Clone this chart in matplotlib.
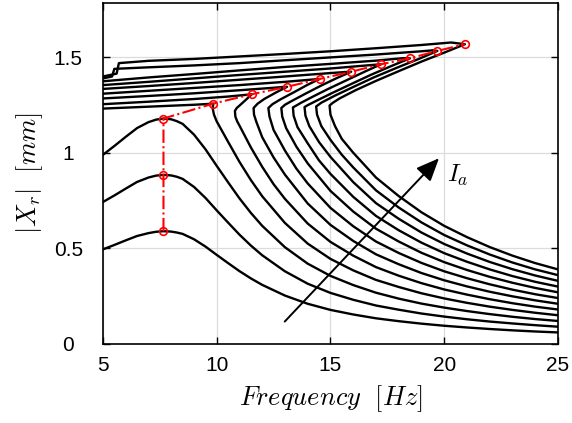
import matplotlib
matplotlib.use('Agg')
import matplotlib.pyplot as plt

plt.rcParams['font.family'] = ['Liberation Sans', 'DejaVu Sans']
plt.rcParams['mathtext.fontset'] = 'cm'

# linear (small current) curves share one frequency grid
lin_freq = [5, 5.5, 6, 6.5, 7, 7.33, 7.66, 8, 8.25, 8.5, 9, 9.5, 10, 10.5,
            11, 11.5, 12, 13, 14, 15, 16, 17, 18, 19, 20, 21, 22, 23, 24, 25]
c1_amp = [.495, .518, .542, .565, .580, .587, .590, .588, .583, .576, .548,
          .510, .466, .423, .381, .343, .309, .253, .210, .178, .154, .134,
          .119, .106, .095, .086, .078, .071, .065, .060]
c2_amp = [.743, .777, .813, .848, .871, .881, .885, .882, .875, .864, .822,
          .765, .699, .635, .572, .515, .464, .380, .315, .267, .231, .201,
          .179, .159, .143, .129, .117, .107, .098, .090]
c3_amp = [.990, 1.036, 1.084, 1.130, 1.161, 1.174, 1.180, 1.176, 1.166,
          1.152, 1.096, 1.020, .932, .846, .762, .686, .618, .506, .420, .356,
          .308, .268, .237, .211, .190, .172, .156, .142, .130, .120]

# nonlinear curves: upper branch -> turning point -> middle branch -> knee -> lower branch
c4_freq = [5, 7, 9, 9.6, 9.85, 9.82, 9.88, 10, 10.5, 11, 11.5, 12, 13, 14,
           15, 16, 17, 18, 19, 20, 21, 22, 23, 24, 25]
c4_amp = [1.232, 1.242, 1.252, 1.256, 1.258, 1.235, 1.2, 1.165, 1.058, .953,
          .858, .773, .633, .525, .445, .385, .335, .298, .265, .238, .215,
          .195, .178, .163, .150]
c5_freq = [5, 7, 9, 10.5, 11.2, 11.54, 11.3, 11.05, 10.88, 10.8, 10.82, 10.9,
           11, 11.5, 12, 12.5, 13, 14, 15, 16, 17, 18, 19, 20, 21, 22, 23,
           24, 25]
c5_amp = [1.255, 1.268, 1.282, 1.295, 1.303, 1.307, 1.28, 1.253, 1.235, 1.22,
          1.19, 1.165, 1.143, 1.029, .927, .836, .759, .630, .534, .462, .402,
          .357, .318, .285, .258, .234, .213, .195, .180]
c6_freq = [5, 7, 9, 11, 12.5, 12.9, 13.09, 12.6, 12.1, 11.8, 11.62, 11.64,
           11.75, 12, 12.5, 13, 14, 15, 16, 17, 18, 19, 20, 21, 22, 23, 24, 25]
c6_amp = [1.285, 1.298, 1.312, 1.328, 1.341, 1.345, 1.346, 1.316, 1.283,
          1.258, 1.235, 1.2, 1.16, 1.082, .976, .886, .735, .623, .539, .469,
          .417, .371, .333, .301, .273, .249, .228, .210]
c7_freq = [5, 7, 9, 11, 13, 14.2, 14.52, 14.0, 13.4, 12.8, 12.45, 12.27,
           12.32, 12.5, 13, 13.5, 14, 15, 16, 17, 18, 19, 20, 21, 22, 23, 24,
           25]
c7_amp = [1.31, 1.325, 1.34, 1.355, 1.372, 1.384, 1.387, 1.357, 1.318, 1.28,
          1.255, 1.235, 1.19, 1.12, 1.012, .918, .840, .712, .616, .536, .476,
          .424, .380, .344, .312, .284, .260, .240]
c8_freq = [5, 7, 9, 11, 13, 15, 15.6, 15.91, 15.3, 14.6, 13.9, 13.3, 13.0,
           12.84, 12.88, 13.05, 13.5, 14, 15, 16, 17, 18, 19, 20, 21, 22, 23,
           24, 25]
c8_amp = [1.335, 1.35, 1.366, 1.383, 1.400, 1.418, 1.423, 1.425, 1.393,
          1.353, 1.31, 1.272, 1.252, 1.235, 1.19, 1.13, 1.033, .945, .801,
          .693, .603, .536, .477, .428, .387, .351, .320, .293, .270]
c9_freq = [5, 7, 9, 11, 13, 15, 16.8, 17.22, 16.5, 15.7, 14.9, 14.2, 13.7,
           13.5, 13.35, 13.38, 13.55, 14, 14.5, 15, 16, 17, 18, 19, 20, 21,
           22, 23, 24, 25]
c9_amp = [1.355, 1.372, 1.39, 1.408, 1.425, 1.442, 1.46, 1.464, 1.425, 1.38,
          1.335, 1.293, 1.262, 1.248, 1.238, 1.195, 1.135, 1.05, .96, .89,
          .77, .67, .595, .53, .475, .43, .39, .355, .325, .30]
c10_freq = [5, 7, 9, 11, 13, 15, 17, 18.2, 18.49, 17.7, 16.8, 15.9, 15.1,
            14.4, 14.0, 13.86, 13.9, 14.07, 14.5, 15, 16, 17, 18, 19, 20, 21,
            22, 23, 24, 25]
c10_amp = [1.375, 1.395, 1.413, 1.432, 1.45, 1.466, 1.483, 1.496, 1.495,
           1.456, 1.41, 1.36, 1.315, 1.274, 1.25, 1.24, 1.195, 1.14, 1.056,
           .979, .847, .737, .655, .583, .523, .473, .429, .391, .358, .33]
c11_freq = [5, 5.4, 5.5, 7, 9, 11, 13, 15, 17, 19, 19.5, 19.7, 18.9, 17.9,
            16.9, 16.0, 15.2, 14.6, 14.37, 14.41, 14.6, 15, 15.5, 16, 17, 18,
            19, 20, 21, 22, 23, 24, 25]
c11_amp = [1.39, 1.40, 1.44, 1.448, 1.458, 1.47, 1.485, 1.50, 1.515, 1.532,
           1.537, 1.534, 1.493, 1.445, 1.395, 1.345, 1.30, 1.263, 1.243, 1.2,
           1.14, 1.068, .99, .924, .804, .714, .636, .57, .516, .468, .426,
           .39, .36]
c12_freq = [5, 5.6, 5.7, 7, 9, 11, 13, 15, 17, 19, 20.3, 20.91, 20.0, 19.0,
            18.0, 17.0, 16.1, 15.4, 15.1, 14.96, 15.0, 15.2, 15.5, 16, 17, 18,
            19, 20, 21, 22, 23, 24, 25]
c12_amp = [1.40, 1.415, 1.47, 1.482, 1.492, 1.505, 1.518, 1.532, 1.548, 1.565,
           1.578, 1.569, 1.525, 1.478, 1.428, 1.377, 1.328, 1.285, 1.262,
           1.248, 1.2, 1.14, 1.073, 1.001, .871, .774, .689, .618, .559, .507,
           .462, .423, .39]

# jump points (red backbone)
peak_freq = [7.66, 7.66, 7.66, 9.85, 11.54, 13.09, 14.52, 15.91, 17.22,
             18.49, 19.70, 20.91]
peak_amp = [0.59, 0.885, 1.18, 1.258, 1.307, 1.346, 1.387, 1.425, 1.464,
            1.495, 1.534, 1.569]

curves = [
    (lin_freq, c1_amp), (lin_freq, c2_amp), (lin_freq, c3_amp),
    (c4_freq, c4_amp), (c5_freq, c5_amp), (c6_freq, c6_amp),
    (c7_freq, c7_amp), (c8_freq, c8_amp), (c9_freq, c9_amp),
    (c10_freq, c10_amp), (c11_freq, c11_amp), (c12_freq, c12_amp),
]

fig = plt.figure(figsize=(5.72, 4.23), dpi=100)
ax = fig.add_axes([0.180, 0.187, 0.7955, 0.806])

for f, a in curves:
    ax.plot(f, a, color='black', lw=1.7, solid_joinstyle='round')

ax.plot(peak_freq, peak_amp, color='red', ls='-.', lw=1.5, marker='o',
        ms=5.5, mfc='none', mec='red', mew=1.2)

ax.annotate('', xy=(19.77, 0.972), xytext=(12.99, 0.117),
            arrowprops=dict(arrowstyle='-|>,head_length=0.7,head_width=0.3',
                            color='black', lw=1.4, mutation_scale=20,
                            shrinkA=0, shrinkB=0))
ax.text(20.1, 0.88, '$I_a$', fontsize=18, va='center', ha='left')

ax.set_xlim(5, 25)
ax.set_ylim(0, 1.785)
ax.set_xticks([5, 10, 15, 20, 25])
ax.set_yticks([0, 0.5, 1, 1.5])
ax.set_yticklabels(['0', '0.5', '1', '1.5'])
ax.grid(True, color='#dcdcdc', lw=0.9)
ax.set_axisbelow(True)
ax.tick_params(direction='in', top=True, right=True, labelsize=15,
               length=5, width=1)
ax.tick_params(axis='x', pad=9)
ax.tick_params(axis='y', pad=25)
for lbl in ax.get_yticklabels():
    lbl.set_ha('center')
for s in ax.spines.values():
    s.set_linewidth(1.2)

ax.set_xlabel(r'$Frequency\ \ [Hz]$', fontsize=19, labelpad=6)
ax.set_ylabel(r'$|X_r|\ \ [mm]$', fontsize=19, labelpad=6)

fig.savefig('out.png', dpi=100)
